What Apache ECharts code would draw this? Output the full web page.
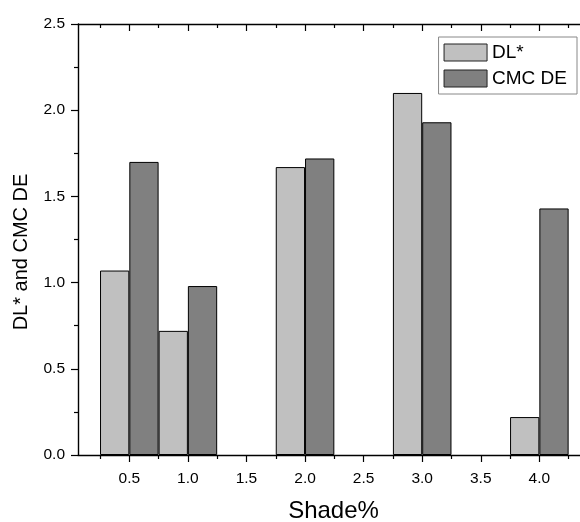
<!DOCTYPE html>
<html>
<head>
<meta charset="utf-8">
<script src="https://cdn.jsdelivr.net/npm/echarts@6/dist/echarts.min.js"></script>
<style>
  html, body { margin: 0; padding: 0; background: #fff; }
  #chart { width: 580px; height: 522px; }
</style>
</head>
<body>
<div id="chart"></div>
<script>
// data
const shades = [0.5, 1.0, 2.0, 3.0, 4.0];
const dlStar = [1.07, 0.72, 1.67, 2.10, 0.22];
const cmcDE = [1.70, 0.98, 1.72, 1.93, 1.43];
const xMajorTicks = [0.5, 1.0, 1.5, 2.0, 2.5, 3.0, 3.5, 4.0];
const xMinorTicks = [0.25, 0.75, 1.25, 1.75, 2.25, 2.75, 3.25, 3.75, 4.25];

const font = '"Liberation Sans", Arial, sans-serif';
const gridLeft = 78, gridRight = 0, gridTop = 24, gridBottom = 67;
const xMin = 0.062, xMax = 4.347;
const plotW = 580 - gridLeft - gridRight;
const barW = plotW / (xMax - xMin) * 0.25;

const chart = echarts.init(document.getElementById('chart'));

const baseX = {
    type: 'value', min: xMin, max: xMax,
    splitLine: { show: false },
    axisLine: { show: false },
    axisLabel: { show: false },
    axisTick: { show: false }
};

chart.setOption({
    animation: false,
    backgroundColor: '#fff',
    grid: {
        left: gridLeft, right: gridRight, top: gridTop, bottom: gridBottom,
        containLabel: false, outerBoundsMode: 'none'
    },
    legend: {
        orient: 'vertical',
        right: 3, top: 37,
        icon: 'rect',
        itemWidth: 43, itemHeight: 17, itemGap: 7,
        padding: [6, 10, 6, 5],
        borderColor: '#888', borderWidth: 1,
        itemStyle: { borderWidth: 1, borderColor: '#222' },
        textStyle: { fontFamily: font, fontSize: 19, color: '#000' },
        data: ['DL*', 'CMC DE']
    },
    xAxis: [
        {
            type: 'value', min: xMin, max: xMax, position: 'bottom',
            name: 'Shade%', nameLocation: 'middle', nameGap: 44,
            nameTextStyle: { fontFamily: font, fontSize: 24, color: '#000', padding: [0, 0, 0, 9] },
            splitLine: { show: false },
            axisLine: { show: true, onZero: false, lineStyle: { color: '#000', width: 1.4 } },
            axisTick: { show: true, length: 7, customValues: xMajorTicks, lineStyle: { color: '#000', width: 1.2 } },
            axisLabel: {
                customValues: xMajorTicks, margin: 16,
                fontFamily: font, fontSize: 15.5, color: '#000',
                formatter: v => v.toFixed(1)
            }
        },
        Object.assign({}, baseX, {
            position: 'bottom',
            axisTick: { show: true, length: 4, customValues: xMinorTicks, lineStyle: { color: '#000', width: 1.2 } }
        }),
        Object.assign({}, baseX, {
            position: 'top',
            axisLine: { show: true, onZero: false, lineStyle: { color: '#000', width: 1.4 } },
            axisTick: { show: true, inside: true, length: 7, customValues: xMajorTicks, lineStyle: { color: '#000', width: 1.2 } }
        }),
        Object.assign({}, baseX, {
            position: 'top',
            axisTick: { show: true, inside: true, length: 4, customValues: xMinorTicks, lineStyle: { color: '#000', width: 1.2 } }
        })
    ],
    yAxis: {
        type: 'value', min: 0, max: 2.5, interval: 0.5,
        name: 'DL* and CMC DE', nameLocation: 'middle', nameGap: 47,
        nameTextStyle: { fontFamily: font, fontSize: 20, color: '#000', padding: [0, 25, 0, 0] },
        splitLine: { show: false },
        axisLine: { show: true, lineStyle: { color: '#000', width: 1.4 } },
        axisTick: { show: true, length: 7, lineStyle: { color: '#000', width: 1.2 } },
        minorTick: { show: true, splitNumber: 2, length: 4, lineStyle: { color: '#000', width: 1.2 } },
        minorSplitLine: { show: false },
        axisLabel: {
            margin: 13, fontFamily: font, fontSize: 15.5, color: '#000',
            formatter: v => v.toFixed(1)
        }
    },
    series: [
        {
            name: 'DL*', type: 'bar', xAxisIndex: 0,
            barWidth: barW, barGap: '0%',
            itemStyle: { color: '#c0c0c0', borderColor: '#000', borderWidth: 1 },
            data: shades.map((s, i) => [s, dlStar[i]])
        },
        {
            name: 'CMC DE', type: 'bar', xAxisIndex: 0,
            barWidth: barW, barGap: '0%',
            itemStyle: { color: '#808080', borderColor: '#000', borderWidth: 1 },
            data: shades.map((s, i) => [s, cmcDE[i]])
        }
    ]
});
</script>
</body>
</html>
